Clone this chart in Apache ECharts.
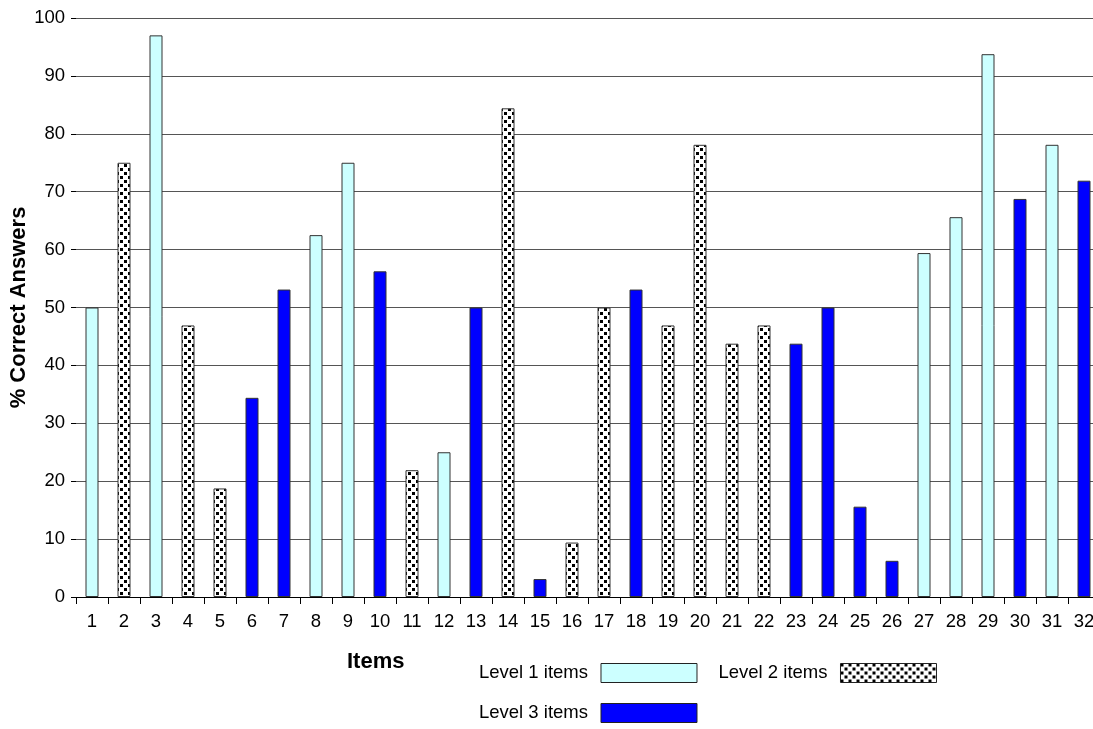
<!DOCTYPE html>
<html>
<head>
<meta charset="utf-8">
<script src="https://cdn.jsdelivr.net/npm/echarts@6/dist/echarts.min.js"></script>
<style>
html,body{margin:0;padding:0;background:#fff;}
#chart{width:1093px;height:729px;}
</style>
</head>
<body>
<div id="chart"></div>
<script>
var categories = ['1','2','3','4','5','6','7','8','9','10','11','12','13','14','15','16','17','18','19','20','21','22','23','24','25','26','27','28','29','30','31','32'];
var level1 = [50,'-',97,'-','-','-','-',62.5,75,'-','-',25,'-','-','-','-','-','-','-','-','-','-','-','-','-','-',59.4,65.6,93.75,'-',78.1,'-'];
var level2 = ['-',75,'-',46.9,18.75,'-','-','-','-','-',21.9,'-','-',84.4,'-',9.4,50,'-',46.9,78.1,43.75,46.9,'-','-','-','-','-','-','-','-','-','-'];
var level3 = ['-','-','-','-','-',34.4,53.1,'-','-',56.25,'-','-',50,'-',3.1,'-','-',53.1,'-','-','-','-',43.75,50,15.6,6.25,'-','-','-',68.75,'-',71.9];
var yTicks = [0,10,20,30,40,50,60,70,80,90,100];

function makePattern(){
  var c = document.createElement('canvas');
  c.width = 8; c.height = 8;
  var ctx = c.getContext('2d');
  ctx.fillStyle = '#ffffff';
  ctx.fillRect(0,0,8,8);
  ctx.fillStyle = '#000000';
  ctx.fillRect(0,0,3,3);
  ctx.fillRect(4,4,3,3);
  return c;
}
var pattern = {image: makePattern(), repeat: 'repeat'};

var chart = echarts.init(document.getElementById('chart'));
var font = 'Liberation Sans, Arial, sans-serif';
var fs = 18.5;
chart.setOption({
  animation:false,
  textStyle:{fontFamily:font},
  grid:{left:76, right:-7, top:18, bottom:132, containLabel:false, outerBoundsMode:'none'},
  xAxis:{
    type:'category', data:categories,
    axisLine:{lineStyle:{color:'#000',width:1}},
    axisTick:{show:true, length:7, lineStyle:{color:'#000'}},
    axisLabel:{color:'#000', fontSize:fs, margin:15, interval:0, fontFamily:font},
    splitLine:{show:false}
  },
  yAxis:{
    type:'value', min:0, max:100, interval:10,
    name:'% Correct Answers', nameLocation:'middle', nameGap:46, nameMoveOverlap:false,
    nameTextStyle:{fontWeight:'bold', fontSize:22, color:'#000', fontFamily:font},
    axisLine:{show:false},
    axisTick:{show:true, length:5, lineStyle:{color:'#000'}},
    axisLabel:{color:'#000', fontSize:fs, margin:11, fontFamily:font},
    splitLine:{show:true, lineStyle:{color:'#555', width:1}}
  },
  legend:[{
    data:['Level 1 items','Level 2 items'],
    left:474, top:658, align:'right', orient:'horizontal', icon:'rect',
    itemWidth:96, itemHeight:19, itemGap:21,
    textStyle:{fontSize:fs, color:'#000', fontFamily:font, padding:[0,8,0,0]},
    itemStyle:{borderColor:'#222', borderWidth:1},
    selectedMode:false
  },{
    data:['Level 3 items'],
    left:474, top:698, align:'right', icon:'rect',
    itemWidth:96, itemHeight:19,
    textStyle:{fontSize:fs, color:'#000', fontFamily:font, padding:[0,8,0,0]},
    itemStyle:{borderColor:'#222', borderWidth:1},
    selectedMode:false
  }],
  graphic:[{
    type:'text', left:347, top:651,
    style:{text:'Items', font:'bold 22px Liberation Sans, Arial, sans-serif', fill:'#000'}
  }],
  series:[
    {name:'Level 1 items', type:'bar', data:level1, barWidth:13, barGap:'-100%',
     itemStyle:{color:'#CCFFFF', borderColor:'#333333', borderWidth:1}},
    {name:'Level 2 items', type:'bar', data:level2, barWidth:13, barGap:'-100%',
     itemStyle:{color:pattern, borderColor:'#333333', borderWidth:1}},
    {name:'Level 3 items', type:'bar', data:level3, barWidth:13, barGap:'-100%',
     itemStyle:{color:'#0000FF', borderColor:'#333333', borderWidth:1}}
  ]
});
</script>
</body>
</html>
